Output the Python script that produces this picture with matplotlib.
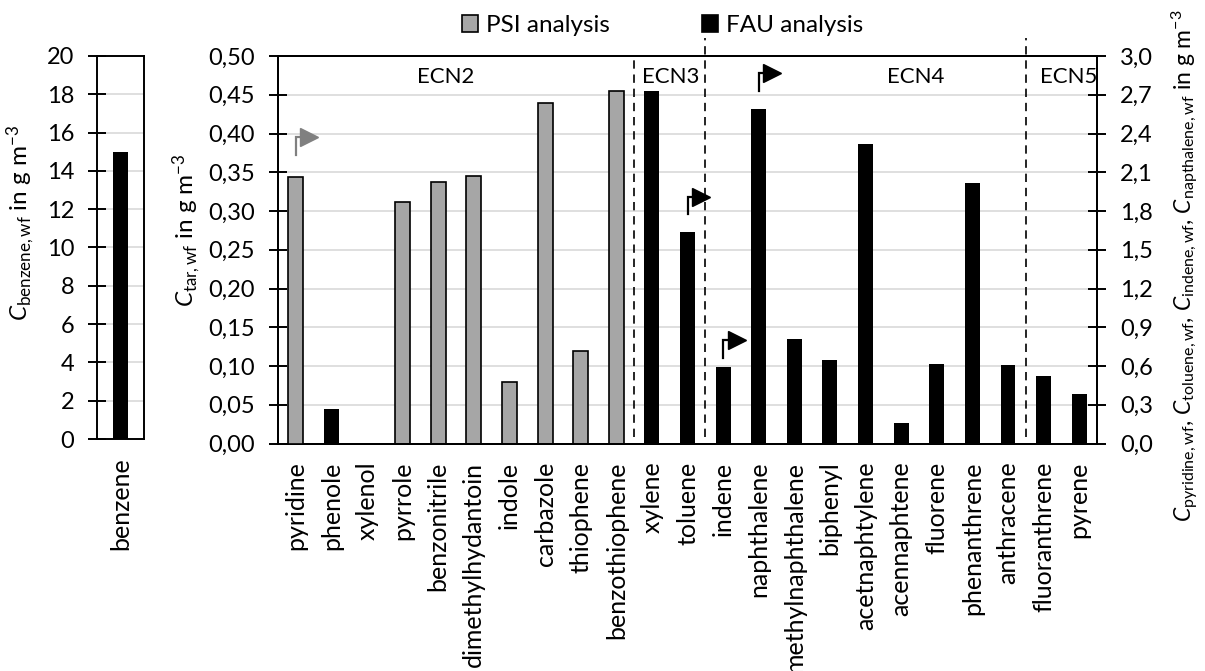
import numpy as np
import matplotlib
matplotlib.use("Agg")
from matplotlib import pyplot as plt
from matplotlib.ticker import FuncFormatter, MultipleLocator
from matplotlib.patches import Patch

plt.rcParams['font.family'] = ['Lato', 'DejaVu Sans']
plt.rcParams['mathtext.fontset'] = 'custom'
plt.rcParams['mathtext.rm'] = 'Lato'
plt.rcParams['mathtext.it'] = 'Lato:italic'
plt.rcParams['font.size'] = 17

# data
benzene = 15.0

categories = ['pyridine', 'phenole', 'xylenol', 'pyrrole', 'benzonitrile', 'dimethylhydantoin',
              'indole', 'carbazole', 'thiophene', 'benzothiophene', 'xylene', 'toluene', 'indene',
              'naphthalene', 'methylnaphthalene', 'biphenyl', 'acetnaphtylene', 'acennaphtene',
              'fluorene', 'phenanthrene', 'anthracene', 'fluoranthrene', 'pyrene']
# g m-3; entries marked 'right' are read on the right axis
values = [2.06, 0.045, 0.0, 0.312, 0.338, 0.345, 0.080, 0.440, 0.119, 0.455, 0.455, 1.64, 0.59,
          2.59, 0.135, 0.108, 0.387, 0.026, 0.103, 0.336, 0.101, 0.087, 0.064]
axis_side = ['right', 'left', 'left', 'left', 'left', 'left', 'left', 'left', 'left', 'left', 'left',
             'right', 'right', 'right', 'left', 'left', 'left', 'left', 'left', 'left', 'left',
             'left', 'left']
source = ['PSI', 'FAU', 'FAU', 'PSI', 'PSI', 'PSI', 'PSI', 'PSI', 'PSI', 'PSI', 'FAU', 'FAU', 'FAU',
          'FAU', 'FAU', 'FAU', 'FAU', 'FAU', 'FAU', 'FAU', 'FAU', 'FAU', 'FAU']

groups = ['ECN2', 'ECN3', 'ECN4', 'ECN5']
group_pos = [4.22, 10.54, 17.4, 21.7]
separators = [9.5, 11.5, 20.5]

colors = {'PSI': '#A6A6A6', 'FAU': 'black'}
grid_c = '#D9D9D9'
W, H = 1205, 671

fig = plt.figure(figsize=(W / 100, H / 100), dpi=100)

def frac(x0, y0, x1, y1):
    return [x0 / W, 1 - y1 / H, (x1 - x0) / W, (y1 - y0) / H]

comma = lambda d: FuncFormatter(lambda v, p: f"{v:.{d}f}".replace('.', ','))

def style(a):
    for s in a.spines.values():
        s.set_linewidth(1.4)
    a.tick_params(axis='y', direction='inout', length=13, width=1.4, pad=10, labelsize=17)
    a.tick_params(axis='x', length=0, pad=13, labelsize=18)

# left panel: benzene
axb = fig.add_axes(frac(97, 56, 144, 439))
axb.bar([0], [benzene], width=0.34, color='black', zorder=3)
axb.set_xlim(-0.5, 0.5)
axb.set_ylim(0, 20)
axb.yaxis.set_major_locator(MultipleLocator(2))
axb.yaxis.set_major_formatter(FuncFormatter(lambda v, p: f"{v:.0f}"))
axb.set_xticks([0], ['benzene'], rotation=90)
axb.grid(axis='y', color=grid_c, lw=1.2, zorder=0)
axb.set_axisbelow(True)
style(axb)
axb.set_ylabel(r'$C_{\mathrm{benzene,wf}}$ in g m$^{-3}$', fontsize=17.5)
axb.yaxis.set_label_coords(-1.28, 0.564)

# main panel
ax = fig.add_axes(frac(278, 56, 1097, 443.5))
ax2 = ax.twinx()
ax.set_ylim(0, 0.5)
ax2.set_ylim(0, 3.0)
ax.set_xlim(-0.5, len(categories) - 0.5)
x = np.arange(len(categories))
for i, (v, side, src) in enumerate(zip(values, axis_side, source)):
    target = ax2 if side == 'right' else ax
    target.bar(x[i], v, width=0.42, color=colors[src], edgecolor='black',
               linewidth=1.2 if src == 'PSI' else 0, zorder=3)

ax.yaxis.set_major_locator(MultipleLocator(0.05))
ax.yaxis.set_major_formatter(comma(2))
ax2.yaxis.set_major_locator(MultipleLocator(0.3))
ax2.yaxis.set_major_formatter(comma(1))
ax.grid(axis='y', color=grid_c, lw=1.2, zorder=0)
ax.set_axisbelow(True)
ax.set_xticks(x, categories, rotation=90)
style(ax)
style(ax2)

ax.set_ylabel(r'$C_{\mathrm{tar,wf}}$ in g m$^{-3}$', fontsize=17.5)
ax.yaxis.set_label_coords(-0.092, 0.551)
ax2.set_ylabel(r'$C_{\mathrm{pyridine,wf}}$, $C_{\mathrm{toluene,wf}}$, $C_{\mathrm{indene,wf}}$, '
               r'$C_{\mathrm{napthalene,wf}}$ in g m$^{-3}$', fontsize=16.5)
ax2.yaxis.set_label_coords(1.089, 0.458)

# group separators
dash = (0, (5, 3.5))
ax.plot([separators[0]] * 2, [0.008, 0.5], ls=dash, color='black', lw=1.2, zorder=4)
for s in separators[1:]:
    ax.plot([s] * 2, [0.008, 0.523], ls=dash, color='black', lw=1.2, zorder=4, clip_on=False)
for g, p in zip(groups, group_pos):
    ax.text(p, 0.473, g, ha='center', va='center', fontsize=16)

# bent arrows pointing to the right axis
arrows = [(0, 0.372, 0.396, '#808080'), (11, 0.296, 0.318, 'black'),
          (12, 0.1105, 0.133, 'black'), (13, 0.455, 0.478, 'black')]
for xi, y0, y1, c in arrows:
    ax.plot([xi, xi, xi + 0.2], [y0, y1, y1], color=c, lw=1.6, zorder=5, solid_joinstyle='miter')
    ax.plot([xi + 0.38], [y1], marker='>', markersize=13, color=c, zorder=5, clip_on=False)

# legend
handles = [Patch(facecolor=colors['PSI'], edgecolor='black', lw=1.2, label='PSI analysis'),
           Patch(facecolor=colors['FAU'], edgecolor='black', lw=1.2, label='FAU analysis')]
fig.legend(handles=handles, loc='center', bbox_to_anchor=(0.55, 0.962), ncol=2, frameon=False,
           fontsize=17.5, handlelength=0.65, handleheight=0.65, handletextpad=0.33,
           columnspacing=3.8)

fig.savefig('out.png', dpi=100)
